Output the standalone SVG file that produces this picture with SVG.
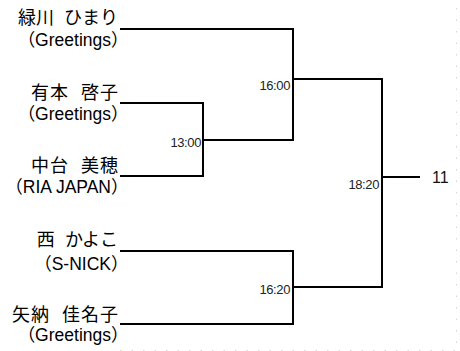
<svg xmlns="http://www.w3.org/2000/svg" width="460" height="351" viewBox="0 0 460 351">
<style>
.name{font-family:"Noto Sans CJK JP","Noto Sans CJK SC",sans-serif;font-size:18px;letter-spacing:1px;word-spacing:7px;fill:#000;text-anchor:end}
.kana{letter-spacing:0px;word-spacing:6px}
.team{font-family:"Liberation Sans","Noto Sans CJK JP",sans-serif;font-size:17.5px;fill:#000;text-anchor:end}
.time{font-family:"Liberation Sans",Arial,sans-serif;font-size:13px;letter-spacing:-0.4px;fill:#222;text-anchor:end}
.score{font-family:"Liberation Sans",Arial,sans-serif;font-size:16px;fill:#111}
.ln{fill:none;stroke:#000;stroke-width:2;stroke-linecap:square;stroke-linejoin:miter}
.grid{fill:none;stroke:#d6d6d6;stroke-width:1;stroke-dasharray:1.5 10}
</style>
<rect width="460" height="351" fill="#fff"/>
<g id="gridlines">
<line class="grid" x1="456.5" y1="8" x2="456.5" y2="351"/>
<line class="grid" x1="120" y1="350.5" x2="460" y2="350.5"/>
</g>
<g id="p1"><text class="name kana" x="118" y="24">緑川 ひまり</text><text class="team" x="128.5" y="45.5">（Greetings）</text></g>
<g id="p2"><text class="name" x="119" y="99">有本 啓子</text><text class="team" x="128.5" y="120">（Greetings）</text></g>
<g id="p3"><text class="name" x="119" y="172">中台 美穂</text><text class="team" x="128.5" y="192.5">（RIA JAPAN）</text></g>
<g id="p4"><text class="name kana" x="118" y="246">西 かよこ</text><text class="team" x="128.5" y="269.5">（S-NICK）</text></g>
<g id="p5"><text class="name" x="119" y="321">矢納 佳名子</text><text class="team" x="128.5" y="340.5">（Greetings）</text></g>
<g id="connectors">
<polyline class="ln" points="121,103 203,103 203,176 121,176"/>
<line class="ln" x1="203" y1="140" x2="293" y2="140"/>
<polyline class="ln" points="121,29 293,29 293,140"/>
<line class="ln" x1="293" y1="79" x2="382" y2="79"/>
<polyline class="ln" points="121,251 293,251 293,324 121,324"/>
<line class="ln" x1="293" y1="287" x2="382" y2="287"/>
<line class="ln" x1="382" y1="79" x2="382" y2="287"/>
<line class="ln" x1="382" y1="177" x2="419" y2="177"/>
</g>
<g id="times">
<text class="time" x="290" y="90">16:00</text>
<text class="time" x="201" y="146.5">13:00</text>
<text class="time" x="379" y="189">18:20</text>
<text class="time" x="290" y="294">16:20</text>
</g>
<g id="result"><text class="score" x="432" y="183">11</text></g>
</svg>
